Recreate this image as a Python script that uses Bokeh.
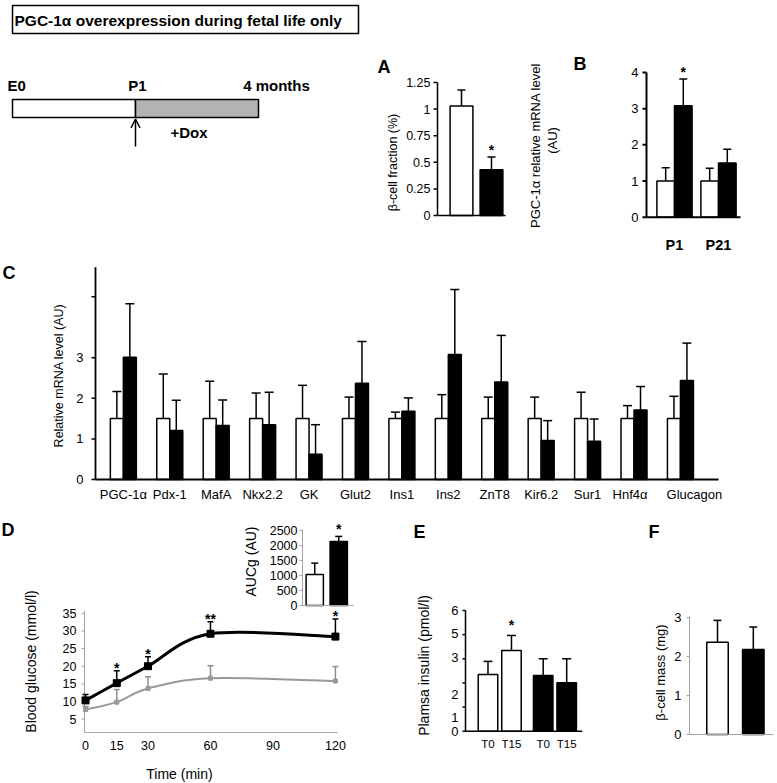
import math
from bokeh.plotting import figure
from bokeh.models import Range1d, Arrow, OpenHead
from bokeh.embed import file_html
from bokeh.resources import INLINE
from bokeh.core.properties import value

FONT = "Liberation Sans"
W, H = 777, 783

# ---------------- data ----------------
title_text = "PGC-1α overexpression during fetal life only"
timeline_labels = ["E0", "P1", "4 months"]
timeline_stage = [0, 1, 2]
timeline_fill = ["white", "#b3b3b3"]
dox_text = "+Dox"

a_mean = [1.03, 0.43]
a_err = [1.18, 0.55]
a_sig = ["", "*"]
a_ticks = [0, 0.25, 0.5, 0.75, 1, 1.25]
a_tick_labels = ["0", "0.25", "0.5", "0.75", "1", "1.25"]

b_times = ["P1", "P21"]
b_ctrl = [1.0, 1.0]
b_ctrl_err = [1.37, 1.35]
b_tg = [3.08, 1.50]
b_tg_err = [3.82, 1.88]
b_sig = ["*", ""]
b_ticks = [0, 1, 2, 3, 4]
b_tick_labels = ["0", "1", "2", "3", "4"]

c_genes = ["PGC-1α", "Pdx-1", "MafA", "Nkx2.2", "GK", "Glut2", "Ins1",
           "Ins2", "ZnT8", "Kir6.2", "Sur1", "Hnf4α", "Glucagon"]
c_ctrl = [1.5, 1.5, 1.5, 1.5, 1.5, 1.5, 1.5, 1.5, 1.5, 1.5, 1.5, 1.5, 1.5]
c_ctrl_err = [2.17, 2.60, 2.42, 2.13, 2.32, 2.03, 1.66, 2.09, 2.03, 2.03, 2.15, 1.82, 2.05]
c_tg = [3.01, 1.21, 1.33, 1.35, 0.62, 2.37, 1.68, 3.08, 2.40, 0.96, 0.94, 1.71, 2.44]
c_tg_err = [4.33, 1.95, 1.96, 2.15, 1.35, 3.40, 2.01, 4.68, 3.55, 1.45, 1.49, 2.29, 3.36]
c_ticks = [0, 1, 2, 3, 4.5]
c_tick_labels = ["0", "1", "2", "3", ""]

d_time = [0, 15, 30, 60, 120]
d_tg = [10.3, 15.2, 20.0, 29.2, 28.4]
d_tg_err = [12.0, 18.7, 22.7, 32.6, 33.4]
d_ctrl = [7.7, 9.8, 13.7, 16.6, 15.8]
d_ctrl_err = [8.6, 13.4, 17.0, 20.1, 19.9]
d_sig = ["", "*", "*", "**", "*"]
d_xticks = [0, 15, 30, 60, 90, 120]
d_xtick_labels = ["0", "15", "30", "60", "90", "120"]
d_yticks = [5, 10, 15, 20, 25, 30, 35]
d_ytick_labels = ["5", "10", "15", "20", "25", "30", "35"]

auc_mean = [1030, 2130]
auc_err = [1410, 2300]
auc_sig = ["", "*"]
auc_ticks = [0, 500, 1000, 1500, 2000, 2500]
auc_tick_labels = ["0", "500", "1000", "1500", "2000", "2500"]

e_labels = ["T0", "T15", "T0", "T15"]
e_mean = [2.82, 4.01, 2.77, 2.41]
e_err = [3.47, 4.76, 3.60, 3.60]
e_sig = ["", "*", "", ""]
e_tick_marks = [0, 1.2, 2.4, 3.6, 4.8, 6]
e_label_pos = [0, 0.70, 1.83, 3.64, 4.85, 6]
e_tick_labels = ["0", "1", "2", "3", "5", "6"]

f_mean = [2.37, 2.18]
f_err = [2.93, 2.76]
f_ticks = [0, 1, 2, 3]
f_tick_labels = ["0", "1", "2", "3"]

GROUP_FILL = ["white", "black"]
GRAY_AXIS = "#a3a3a3"

# ---------------- one canvas, one scale per panel ----------------
p = figure(width=W, height=H, x_range=Range1d(0, W), y_range=Range1d(0, H),
           x_axis_location=None, y_axis_location=None, min_border=0,
           output_backend="svg", toolbar_location=None)
p.outline_line_color = None
p.background_fill_color = "white"
p.border_fill_color = "white"
p.xgrid.grid_line_color = None
p.ygrid.grid_line_color = None
p.xgrid.visible = False
p.ygrid.visible = False

PANELS = {}


def panel(name, box, xr, yr):
    """box = (left, top, right, bottom) in page pixels onto which data ranges xr, yr map."""
    l, t, r, b = box
    kx = (r - l) / (xr[1] - xr[0])
    ky = (b - t) / (yr[1] - yr[0])
    PANELS[name] = dict(kx=kx, ky=ky, xr=xr, yr=yr,
                        xrange=Range1d(xr[0] - l / kx, xr[0] + (W - l) / kx),
                        yrange=Range1d(yr[0] - (H - b) / ky, yr[0] + b / ky))


panel("a", (437, 82, 505, 215), (-0.8, 1.467), (0, 1.25))
panel("b", (646, 72, 740, 216.7), (-0.636, 1.5), (0, 4))
panel("c", (95, 266.7, 718, 479), (-0.60, 12.82), (0, 5.23))
panel("i", (302, 529, 353, 605), (-0.51, 1.615), (0, 2530))
panel("d", (84, 610, 337, 732), (-0.5, 121), (1.2, 35.8))
panel("e", (465, 610, 581.7, 730.7), (-0.957, 4.01), (0, 6))
panel("f", (689, 616, 773, 734), (-0.782, 1.564), (0, 3.03))

xr_extra = {k: v["xrange"] for k, v in PANELS.items()}
yr_extra = {k: v["yrange"] for k, v in PANELS.items()}
# timeline: stage units across, page pixels down
xr_extra["tl"] = Range1d(-12 / 123, (W - 12) / 123)
p.extra_x_ranges = xr_extra
p.extra_y_ranges = yr_extra


def rk(n):
    return dict(x_range_name=n, y_range_name=n)


def ptext(x, y, t, size, angle=0.0, bold=False, align="center", baseline="middle"):
    p.text(x=[x], y=[H - y], text=[t], angle=angle, text_align=align,
           text_baseline=baseline, text_font=value(FONT), text_font_size=size,
           text_font_style="bold" if bold else "normal", text_color="black")


def letter(t, x, y):
    ptext(x, y, t, "18px", bold=True, align="left")


def bars(n, xs, tops, width, fill):
    p.vbar(x=list(xs), top=list(tops), bottom=0, width=width, fill_color=fill,
           line_color="black", line_width=1.5, **rk(n))


def errbars(n, xs, lo, hi, cap_px, color="black", lw=1.5):
    half = cap_px / 2 / PANELS[n]["kx"]
    xs = list(xs)
    p.segment(x0=xs, y0=list(lo), x1=xs, y1=list(hi), line_color=color, line_width=lw, **rk(n))
    p.segment(x0=[x - half for x in xs], y0=list(hi), x1=[x + half for x in xs], y1=list(hi),
              line_color=color, line_width=lw, **rk(n))


def stars(n, xs, ys, sig, gap):
    pts = [(x, y, s) for x, y, s in zip(xs, ys, sig) if s]
    p.text(x=[q[0] for q in pts], y=[q[1] for q in pts], text=[q[2] for q in pts],
           y_offset=-(gap - 3), text_align="center", text_baseline="middle",
           text_font=value(FONT), text_font_size="14px", text_font_style="bold",
           text_color="black", **rk(n))


def axis_lines(n, color, lw):
    (x0, x1), (y0, y1) = PANELS[n]["xr"], PANELS[n]["yr"]
    p.segment(x0=[x0, x0], y0=[y0, y0], x1=[x0, x1], y1=[y1, y0],
              line_color=color, line_width=lw, **rk(n))


def yticks(n, marks, label_pos, labels, color, lw, tick_px, size, gap):
    x0 = PANELS[n]["xr"][0]
    dx = tick_px / PANELS[n]["kx"]
    if tick_px:
        p.segment(x0=[x0] * len(marks), y0=list(marks), x1=[x0 - dx] * len(marks),
                  y1=list(marks), line_color=color, line_width=lw, **rk(n))
    keep = [(yv, t) for yv, t in zip(label_pos, labels) if t]
    p.text(x=[x0] * len(keep), y=[k[0] for k in keep], text=[k[1] for k in keep],
           x_offset=-(tick_px + gap), text_align="right", text_baseline="middle",
           text_font=value(FONT), text_font_size=size, text_color="black", **rk(n))


def xlabels(n, pos, labels, size, off, bold=False, shifts=None):
    y0 = PANELS[n]["yr"][0]
    shifts = [0] * len(pos) if shifts is None else shifts
    p.text(x=list(pos), y=[y0] * len(pos), text=list(labels), y_offset=off,
           x_offset=list(shifts),
           text_align="center", text_baseline="middle", text_font=value(FONT),
           text_font_size=size, text_font_style="bold" if bold else "normal",
           text_color="black", **rk(n))


# ---------------- timeline ----------------
p.quad(left=[12], right=[358], top=[H - 5], bottom=[H - 33], fill_color="white",
       line_color="black", line_width=1.5)
ptext(14, 19.5, title_text, "15.5px", bold=True, align="left")
tk = dict(x_range_name="tl", y_range_name="default")
p.quad(left=timeline_stage[:-1], right=timeline_stage[1:], top=H - 99, bottom=H - 117,
       fill_color=timeline_fill, line_color="black", line_width=1.5, **tk)
for lab, st, off, al in zip(timeline_labels, timeline_stage, [-5, 2, 18],
                            ["left", "center", "center"]):
    p.text(x=[st], y=[H - 85], text=[lab], x_offset=off, text_align=al,
           text_baseline="middle", text_font=value(FONT), text_font_size="15px",
           text_font_style="bold", text_color="black", **tk)
p.text(x=[(timeline_stage[1] + timeline_stage[2]) / 2], y=[H - 132], text=[dox_text],
       x_offset=-8, text_align="center", text_baseline="middle", text_font=value(FONT),
       text_font_size="15px", text_font_style="bold", text_color="black", **tk)
p.add_layout(Arrow(end=OpenHead(size=9, line_width=1.5, line_color="black"),
                   x_start=timeline_stage[1], y_start=H - 146,
                   x_end=timeline_stage[1], y_end=H - 118.5,
                   line_width=1.5, line_color="black", x_range_name="tl"))

# ---------------- panel A ----------------
xa = list(range(len(a_mean)))
bars("a", xa, a_mean, 0.76, GROUP_FILL)
errbars("a", xa, a_mean, a_err, 8)
stars("a", xa, a_err, a_sig, 10)
axis_lines("a", "black", 1.5)
yticks("a", a_ticks, a_ticks, a_tick_labels, "black", 1.5, 4, "12.5px", 3)
ptext(392, 162, "β-cell fraction (%)", "12.5px", angle=math.pi / 2)
letter("A", 377, 66)

# ---------------- panel B ----------------
xb = list(range(len(b_times)))
xb_c = [x - 0.2 for x in xb]
xb_t = [x + 0.2 for x in xb]
bars("b", xb_c, b_ctrl, 0.4, GROUP_FILL[0])
bars("b", xb_t, b_tg, 0.4, GROUP_FILL[1])
errbars("b", xb_c, b_ctrl, b_ctrl_err, 8)
errbars("b", xb_t, b_tg, b_tg_err, 8)
stars("b", xb_t, b_tg_err, b_sig, 10)
axis_lines("b", "black", 2)
yticks("b", b_ticks, b_ticks, b_tick_labels, "black", 2, 4, "13px", 4)
xlabels("b", xb, b_times, "14.5px", 28, bold=True)
ptext(535, 145, "PGC-1α relative mRNA level", "13px", angle=math.pi / 2)
ptext(552, 140, "(AU)", "13px", angle=math.pi / 2)
letter("B", 573, 63)

# ---------------- panel C ----------------
xc = list(range(len(c_genes)))
xc_c = [x - 0.14 for x in xc]
xc_t = [x + 0.14 for x in xc]
bars("c", xc_c, c_ctrl, 0.28, GROUP_FILL[0])
bars("c", xc_t, c_tg, 0.28, GROUP_FILL[1])
errbars("c", xc_c, c_ctrl, c_ctrl_err, 9)
errbars("c", xc_t, c_tg, c_tg_err, 9)
axis_lines("c", "black", 1.8)
yticks("c", c_ticks, c_ticks, c_tick_labels, "black", 1.5, 4, "13px", 8)
c_label_shift = [0] * (len(c_genes) - 2) + [-4, 14]
xlabels("c", xc, c_genes, "13px", 15, shifts=c_label_shift)
ptext(58, 375, "Relative mRNA level (AU)", "12.5px", angle=math.pi / 2)
letter("C", 2, 272)

# ---------------- panel D inset (AUCg) ----------------
xi = list(range(len(auc_mean)))
bars("i", xi, auc_mean, 0.72, GROUP_FILL)
errbars("i", xi, auc_mean, auc_err, 7)
stars("i", xi, auc_err, auc_sig, 10)
axis_lines("i", GRAY_AXIS, 1)
yticks("i", auc_ticks, auc_ticks, auc_tick_labels, GRAY_AXIS, 1, 3, "12.5px", 2)
ptext(250, 561, "AUCg (AU)", "14px", angle=math.pi / 2)
letter("D", 1, 529)

# ---------------- panel D main ----------------


def bezier_parts(xs, ys):
    n = len(xs)
    out = dict(x0=[], y0=[], x1=[], y1=[], cx0=[], cy0=[], cx1=[], cy1=[])
    for i in range(n - 1):
        im, i2 = max(i - 1, 0), min(i + 2, n - 1)
        out["x0"].append(xs[i]); out["y0"].append(ys[i])
        out["x1"].append(xs[i + 1]); out["y1"].append(ys[i + 1])
        out["cx0"].append(xs[i] + (xs[i + 1] - xs[im]) / 6)
        out["cy0"].append(ys[i] + (ys[i + 1] - ys[im]) / 6)
        out["cx1"].append(xs[i + 1] - (xs[i2] - xs[i]) / 6)
        out["cy1"].append(ys[i + 1] - (ys[i2] - ys[i]) / 6)
    return out


axis_lines("d", GRAY_AXIS, 1)
yticks("d", d_yticks, d_yticks, d_ytick_labels, GRAY_AXIS, 1, 3, "12.5px", 5)
xlabels("d", d_xticks, d_xtick_labels, "12.5px", 13)
errbars("d", d_time, d_ctrl, d_ctrl_err, 6, color="#8f8f8f")
p.bezier(**bezier_parts(d_time, d_ctrl), line_color="#999999", line_width=2, **rk("d"))
p.scatter(d_time, d_ctrl, marker="square", size=4, color="#999999", **rk("d"))
errbars("d", d_time, d_tg, d_tg_err, 6)
p.bezier(**bezier_parts(d_time, d_tg), line_color="black", line_width=3, **rk("d"))
p.scatter(d_time, d_tg, marker="square", size=7, color="black", **rk("d"))
stars("d", d_time, d_tg_err, d_sig, 6)
ptext(30, 661, "Blood glucose (mmol/l)", "14px", angle=math.pi / 2)
ptext(179, 773, "Time (min)", "14px")

# ---------------- panel E ----------------
xe = [i + (0.35 if i >= 2 else 0) for i in range(len(e_mean))]
e_fill = [GROUP_FILL[0]] * 2 + [GROUP_FILL[1]] * 2
bars("e", xe, e_mean, 0.83, e_fill)
errbars("e", xe, e_mean, e_err, 9)
stars("e", xe, e_err, e_sig, 13)
axis_lines("e", "black", 1.5)
yticks("e", e_tick_marks, e_label_pos, e_tick_labels, "black", 1.5, 3, "13px", 4)
xlabels("e", xe, e_labels, "11.5px", 13)
ptext(423, 663, "Plamsa insulin  (pmol/l)", "14px", angle=math.pi / 2)
letter("E", 413, 531.5)

# ---------------- panel F ----------------
xf = list(range(len(f_mean)))
bars("f", xf, f_mean, 0.6, GROUP_FILL)
errbars("f", xf, f_mean, f_err, 8)
axis_lines("f", GRAY_AXIS, 1)
yticks("f", f_ticks, f_ticks, f_tick_labels, GRAY_AXIS, 1, 3, "13px", 5)
ptext(660, 672, "β-cell mass (mg)", "13px", angle=math.pi / 2)
letter("F", 648, 531.5)

open("out.html", "w").write(file_html(p, INLINE))
